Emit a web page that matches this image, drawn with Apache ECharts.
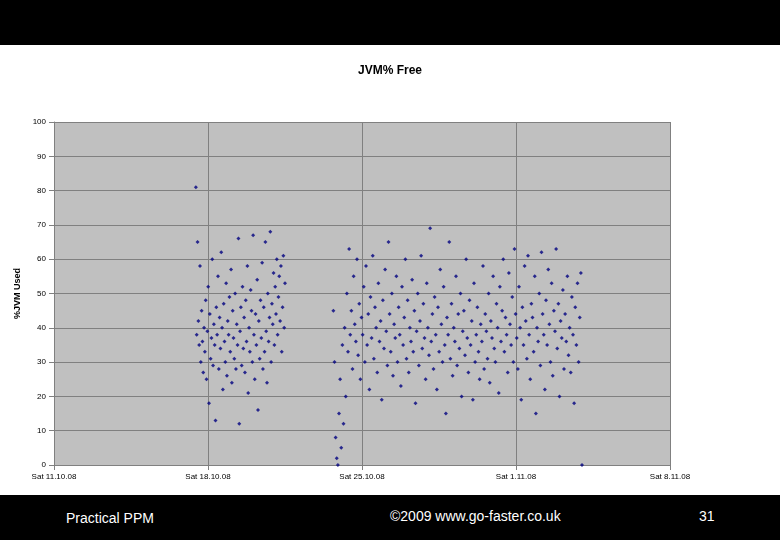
<!DOCTYPE html>
<html><head><meta charset="utf-8">
<script src="https://cdn.jsdelivr.net/npm/echarts@6/dist/echarts.min.js"></script>
<style>
html,body{margin:0;padding:0;background:#fff;}
#top{position:absolute;left:0;top:0;width:780px;height:45px;background:#000;}
#bot{position:absolute;left:0;top:495px;width:780px;height:45px;background:#000;color:#fff;font-family:"Liberation Sans",Arial,sans-serif;font-size:14px;}
#main{position:absolute;left:0;top:45px;width:780px;height:450px;}
</style></head>
<body>
<div id="top"></div>
<div id="main"></div>
<div id="bot">
  <span style="position:absolute;left:66px;top:15px">Practical PPM</span>
  <span style="position:absolute;left:390px;top:13px">©2009 www.go-faster.co.uk</span>
  <span style="position:absolute;left:699px;top:13px">31</span>
</div>
<script>
// x axis: days since Sat 11.10.08
var weekLabels = ['Sat 11.10.08', 'Sat 18.10.08', 'Sat 25.10.08', 'Sat 1.11.08', 'Sat 8.11.08'];

// first run: sampled from day 6.45 to day 10.5
var run1Start = 6.45, run1End = 10.5;
var run1 = [81,38,65,42,35,58,30,45,36,27,40,33,48,25,39,52,18,44,31,37,60,29,41,35,13,46,38,55,28,43,34,62,40,22,47,36,30,53,26,42,38,49,33,57,24,45,37,31,50,28,41,35,66,12,39,46,29,52,34,43,27,48,36,58,21,40,33,51,45,30,67,38,25,44,35,54,16,42,31,48,37,59,28,46,33,65,39,24,50,36,43,68,30,47,41,56,35,52,44,60,38,49,55,42,58,33,46,61,40,53];

// second run: sampled from day 12.7 to day 24.0
var run2Start = 12.7, run2End = 24.0;
var run2 = [45,30,8,2,0,15,25,5,35,12,40,20,50,33,63,38,45,28,55,41,36,60,32,47,25,43,38,52,30,58,35,44,22,49,37,61,31,46,40,27,53,36,42,19,48,34,57,39,29,65,44,33,50,26,41,37,55,30,46,38,23,52,35,43,60,31,48,27,40,36,54,33,45,18,39,50,29,42,61,34,47,37,25,53,40,32,69,36,44,28,49,38,22,46,33,57,41,30,52,35,15,43,38,65,31,47,26,40,36,55,29,44,34,50,20,39,45,32,60,37,27,48,35,42,19,53,30,38,46,33,25,41,36,58,28,44,39,31,50,24,42,37,55,34,30,47,40,21,52,36,45,60,33,43,38,27,56,41,35,49,30,63,44,37,28,52,40,19,46,35,58,42,31,61,38,25,47,43,33,55,15,40,36,50,29,62,44,38,22,48,35,57,41,30,53,26,45,39,63,34,47,20,42,37,51,28,44,36,55,32,40,27,49,38,18,46,35,53,30,43,56,0];

function toPoints(vals, start, end) {
  var pts = [];
  var step = (end - start) / (vals.length - 1);
  for (var i = 0; i < vals.length; i++) pts.push([start + i * step, vals[i]]);
  return pts;
}

var myChart = echarts.init(document.getElementById('main'));
var option = {
  animation: false,
  title: {
    text: 'JVM% Free', left: 'center', top: 15,
    textStyle: {fontSize: 12, fontWeight: 'bold', fontFamily: 'Liberation Sans', color: '#000'}
  },
  grid: {left: 54, right: 110, top: 77, bottom: 30},
  xAxis: {
    type: 'value', min: 0, max: 28, interval: 7,
    axisLine: {lineStyle: {color: '#808080'}},
    axisTick: {show: true, lineStyle: {color: '#808080'}},
    splitLine: {show: true, lineStyle: {color: '#808080', width: 1}},
    axisLabel: {fontSize: 8, color: '#000', fontFamily: 'Liberation Sans',
      formatter: function (v) { return weekLabels[v / 7]; }}
  },
  yAxis: {
    type: 'value', min: 0, max: 100, interval: 10,
    name: '%JVM Used', nameLocation: 'middle', nameGap: 26,
    nameTextStyle: {fontSize: 9, fontWeight: 'bold', fontFamily: 'Liberation Sans', color: '#000'},
    axisLine: {show: true, lineStyle: {color: '#808080'}},
    axisTick: {show: true, lineStyle: {color: '#808080'}},
    splitLine: {show: true, lineStyle: {color: '#808080', width: 1}},
    axisLabel: {fontSize: 8, color: '#000', fontFamily: 'Liberation Sans'}
  },
  series: [
    {type: 'custom', silent: true, renderItem: function (p, api) {
      var c = p.coordSys;
      return {type: 'rect', shape: {x: c.x, y: c.y, width: c.width, height: c.height},
        style: {fill: '#c0c0c0'}, z2: -10};
    }, data: [0], z: -1},
    {type: 'scatter', symbol: 'diamond', symbolSize: 4, itemStyle: {color: '#000080'},
      data: toPoints(run1, run1Start, run1End)},
    {type: 'scatter', symbol: 'diamond', symbolSize: 4, itemStyle: {color: '#000080'},
      data: toPoints(run2, run2Start, run2End)}
  ]
};
myChart.setOption(option);
</script>
</body></html>
